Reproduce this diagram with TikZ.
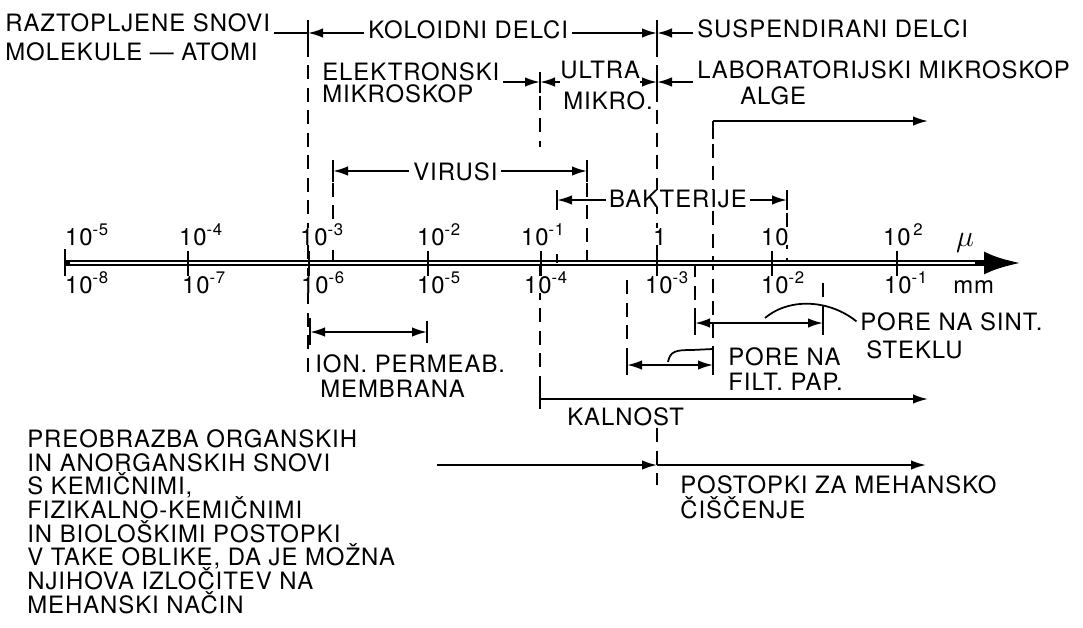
\documentclass[tikz,border=0pt]{standalone}
\usepackage{fontspec}
\setmainfont{TeX Gyre Heros}
\newfontfamily\napisfont{TeX Gyre Heros}[LetterSpace=4]
\usetikzlibrary{arrows.meta}

\tikzset{
  napis/.style={anchor=base west, inner sep=0pt, text height=9.8pt, text depth=0pt, font=\napisfont\fontsize{13.6}{15}\selectfont},
  prekrij/.style={fill=white, inner xsep=1.5pt},
  oznaka/.style={napis, fill=white, inner xsep=1pt},
  mera/.style={line width=1.1pt},
  zarez/.style={line width=1.5pt},
  crtkano/.style={line width=1.6pt, dash pattern=on 2.8mm off 1.7mm},
  vodilo/.style={line width=1pt},
}

\begin{document}
\begin{tikzpicture}[x=0.2mm, y=-0.2mm, >={Latex[length=3mm,width=1.9mm]}]
  \useasboundingbox (0,0) rectangle (1083,627);

  % crtkane meje
  \draw[crtkano] (308,20) -- (308,372);
  \draw[crtkano] (540,73) -- (540,147);
  \draw[crtkano] (657,20) -- (657,263);
  \draw[crtkano] (333,160) -- (333,263);
  \draw[crtkano] (587,160) -- (587,263);
  \draw[crtkano] (713,121) -- (713,372);
  \draw[crtkano] (787,190) -- (787,263);
  \draw[crtkano] (540,263) -- (540,408);
  \draw[crtkano] (627,280) -- (627,373);
  \draw[crtkano] (695,263) -- (695,332);
  \draw[crtkano] (823,283) -- (823,333);
  \draw[crtkano] (657,428) -- (657,485);

  % os
  \coordinate (os0) at (65,263);
  \coordinate (os1) at (1021,263);
  \draw[line width=1.1mm, -{Latex[length=7.4mm,width=4.6mm]}] (os0) -- (os1);
  \draw[white, line width=0.3mm] (70,263) -- (975,263);
  \draw[zarez] (65,249) -- (65,277) (188,251) -- (188,276) (309,251) -- (309,276)
    (428,251) -- (428,276) (541,251) -- (541,276) (657,251) -- (657,276)
    (772,251) -- (772,276) (897,251) -- (897,276) (557,254) -- (557,263);

  % oznake na osi (mikrometri zgoraj, milimetri spodaj)
  \node[oznaka] (z1) at (63,245) {10\textsuperscript{-5}};
  \node[oznaka] (z2) at (177,245) {10\textsuperscript{-4}};
  \node[oznaka] (z3) at (298,245) {10\textsuperscript{-3}};
  \node[oznaka] (z4) at (415,245) {10\textsuperscript{-2}};
  \node[oznaka] (z5) at (519,245) {10\textsuperscript{-1}};
  \node[oznaka] (z6) at (651,245) {1};
  \node[oznaka] (z7) at (759,245) {10};
  \node[oznaka] (z8) at (881,245) {10\textsuperscript{\,2}};
  \node[anchor=base west, font=\fontsize{16}{18}\selectfont] (mu) at (950,246) {$\mu$};
  \node[oznaka] (s1) at (63,293) {10\textsuperscript{-8}};
  \node[oznaka] (s2) at (180,293) {10\textsuperscript{-7}};
  \node[oznaka] (s3) at (299,293) {10\textsuperscript{-6}};
  \node[oznaka] (s4) at (415,293) {10\textsuperscript{-5}};
  \node[oznaka] (s5) at (522,293) {10\textsuperscript{-4}};
  \node[oznaka] (s6) at (643,293) {10\textsuperscript{-3}};
  \node[oznaka] (s7) at (759,293) {10\textsuperscript{-2}};
  \node[oznaka] (s8) at (882,293) {10\textsuperscript{-1}};
  \node[napis] (mm) at (953,293) {mm};

  % zgornji napisi
  \node[napis] (raztop) at (5,31) {RAZTOPLJENE SNOVI};
  \node[napis] (molek) at (5,60) {MOLEKULE — ATOMI};
  \node[napis] (koloid) at (368,38) {KOLOIDNI DELCI};
  \node[napis] (susp) at (697,37) {SUSPENDIRANI DELCI};
  \node[napis] (elek) at (322,80) {ELEKTRONSKI};
  \node[napis] (elekb) at (322,102) {MIKROSKOP};
  \node[napis] (ultra) at (560,78) {ULTRA};
  \node[napis] (ultrab) at (563,109) {MIKRO.};
  \node[napis] (lab) at (697,78) {LABORATORIJSKI MIKROSKOP};
  \node[napis] (alge) at (740,104) {ALGE};
  \node[napis] (virusi) at (413,180) {VIRUSI};
  \node[napis, prekrij] (bakt) at (606,207) {BAKTERIJE};

  % delci
  \coordinate (k1) at (308,33);
  \coordinate (k2) at (657,33);
  \draw[zarez] (308,20) -- (308,44) (657,20) -- (657,44);
  \draw[mera] ([xshift=2pt]raztop.east |- k1) -- (k1);
  \draw[mera,->] ([xshift=-2pt]koloid.west |- k1) -- (k1);
  \draw[mera,->] ([xshift=2pt]koloid.east |- k2) -- (k2);
  \draw[mera,->] ([xshift=-2pt]susp.west |- k2) -- (k2);

  % mikroskopi
  \coordinate (e1) at (540,82);
  \coordinate (e2) at (657,82);
  \draw[zarez] (540,72) -- (540,93) (657,72) -- (657,93);
  \draw[mera,->] ([xshift=2pt]elek.east |- e1) -- (e1);
  \draw[mera,->] (ultra.west |- e1) -- (e1);
  \draw[mera,->] (ultra.east |- e2) -- (e2);
  \draw[mera,->] ([xshift=-2pt]lab.west |- e2) -- (e2);

  % alge
  \coordinate (a1) at (713,121);
  \coordinate (a2) at (928,121);
  \draw[zarez] (a1) -- ++(0,18);
  \draw[mera,->] (a1) -- (a2);

  % virusi, bakterije
  \coordinate (v1) at (333,171);
  \coordinate (v2) at (587,171);
  \draw[zarez] (333,160) -- (333,182) (587,160) -- (587,182);
  \draw[mera,->] ([xshift=-2pt]virusi.west |- v1) -- (v1);
  \draw[mera,->] ([xshift=2pt]virusi.east |- v2) -- (v2);
  \coordinate (b1) at (557,200);
  \coordinate (b2) at (787,200);
  \draw[zarez] (557,190) -- (557,210) (787,190) -- (787,210);
  \draw[mera,->] (bakt.west |- b1) -- (b1);
  \draw[mera,->] (bakt.east |- b2) -- (b2);

  % ionska membrana
  \coordinate (i1) at (310,332);
  \coordinate (i2) at (427,332);
  \draw[zarez] (310,318) -- (310,345) (427,321) -- (427,343);
  \draw[mera,<->] (i1) -- (i2);
  \node[napis] (ion) at (315,372) {ION. PERMEAB.};
  \node[napis] (ionb) at (320,397) {MEMBRANA};

  % pore na sintranem steklu
  \coordinate (p1) at (695,323);
  \coordinate (p2) at (823,323);
  \draw[zarez] (695,310) -- (695,335) (823,310) -- (823,335);
  \draw[mera,<->] (p1) -- (p2);
  \node[napis] (sint) at (860,330) {PORE NA SINT.};
  \node[napis] (steklu) at (866,358) {STEKLU};
  \draw[vodilo] (765,318) .. controls (790,297) and (830,300) .. ([xshift=-2pt]sint.west);

  % pore na filtrirnem papirju
  \coordinate (f1) at (627,365);
  \coordinate (f2) at (713,365);
  \draw[zarez] (627,354) -- (627,375) (713,354) -- (713,375);
  \draw[mera,<->] (f1) -- (f2);
  \node[napis] (porefilt) at (728,365) {PORE NA};
  \node[napis] (filtpap) at (728,390) {FILT. PAP.};
  \draw[vodilo] (668,362) .. controls (670,351) and (676,350) .. (692,350) -- (713,349);

  % kalnost
  \coordinate (kal1) at (540,399);
  \coordinate (kal2) at (928,399);
  \draw[zarez] (540,390) -- (540,409);
  \draw[mera,->] (kal1) -- (kal2);
  \node[napis] (kalnost) at (567,425) {KALNOST};

  % postopki
  \coordinate (m1) at (437,465);
  \coordinate (m2) at (657,465);
  \coordinate (m3) at (926,465);
  \draw[mera,->] (m1) -- (m2);
  \draw[mera,->] (m2) -- (m3);
  \node[napis] (postopki) at (680,493) {POSTOPKI ZA MEHANSKO};
  \node[napis] (ciscenje) at (680,518) {ČIŠČENJE};

  \node[napis] (pr1) at (27,447) {PREOBRAZBA ORGANSKIH};
  \node[napis] (pr2) at (27,471) {IN ANORGANSKIH SNOVI};
  \node[napis] (pr3) at (27,494) {S KEMIČNIMI,};
  \node[napis] (pr4) at (27,518) {FIZIKALNO-KEMIČNIMI};
  \node[napis] (pr5) at (27,542) {IN BIOLOŠKIMI POSTOPKI};
  \node[napis] (pr6) at (27,565) {V TAKE OBLIKE, DA JE MOŽNA};
  \node[napis] (pr7) at (27,589) {NJIHOVA IZLOČITEV NA};
  \node[napis] (pr8) at (27,613) {MEHANSKI NAČIN};
\end{tikzpicture}
\end{document}
